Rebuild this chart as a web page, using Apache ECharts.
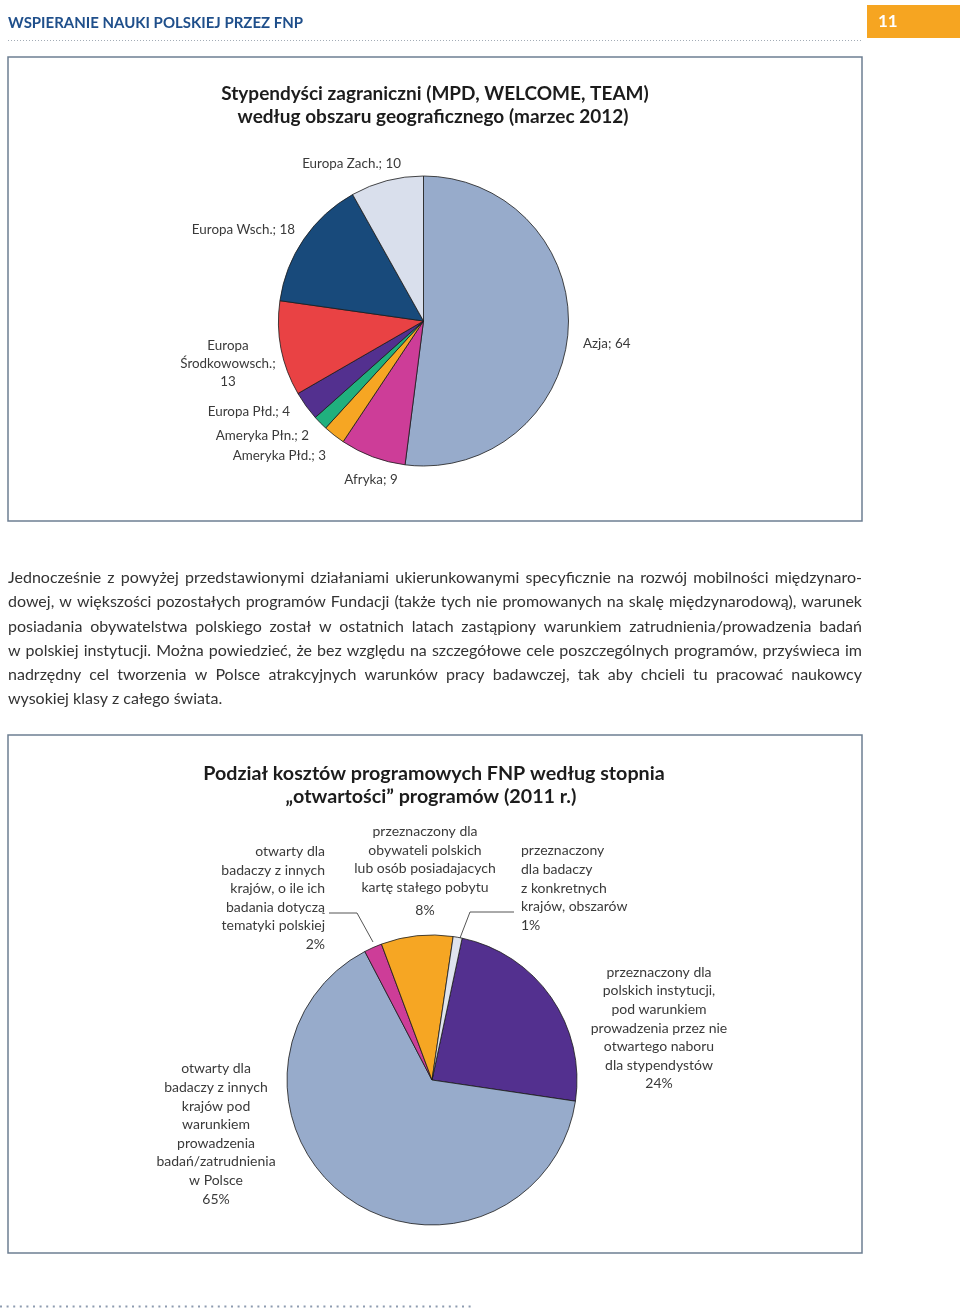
<!DOCTYPE html>
<html><head><meta charset="utf-8">
<script src="https://cdn.jsdelivr.net/npm/echarts@6/dist/echarts.min.js"></script>
<style>html,body{margin:0;padding:0;background:#fff}#c{width:960px;height:1311px}</style>
</head><body><div id="c"></div>
<script>
// ---- Chart 1 data ----
const regions = ['Azja', 'Afryka', 'Ameryka Płd.', 'Ameryka Płn.', 'Europa Płd.', 'Europa Środkowowsch.', 'Europa Wsch.', 'Europa Zach.'];
const regionCounts = [64, 9, 3, 2, 4, 13, 18, 10];
const regionColors = ['#97abcb', '#cd3d98', '#f6a623', '#20b07e', '#53308f', '#e94244', '#184a7b', '#d9dfec'];

// ---- Chart 2 data ----
const openness = [
  'przeznaczony dla\npolskich instytucji,\npod warunkiem\nprowadzenia przez nie\notwartego naboru\ndla stypendystów',
  'otwarty dla\nbadaczy z innych\nkrajów pod\nwarunkiem\nprowadzenia\nbadań/zatrudnienia\nw Polsce',
  'otwarty dla\nbadaczy z innych\nkrajów, o ile ich\nbadania dotyczą\ntematyki polskiej',
  'przeznaczony dla\nobywateli polskich\nlub osób posiadajacych\nkartę stałego pobytu',
  'przeznaczony\ndla badaczy\nz konkretnych\nkrajów, obszarów'
];
const opennessShares = [24, 65, 2, 8, 1];
const opennessColors = ['#53308f', '#97abcb', '#cd3d98', '#f6a623', '#dfe4ee'];

// ---- Texts ----
const headerText = 'WSPIERANIE NAUKI POLSKIEJ PRZEZ FNP';
const pageNumber = '11';
const title1 = ['Stypendyści zagraniczni (MPD, WELCOME, TEAM)', 'według obszaru geograficznego (marzec 2012)'];
const title2 = ['Podział kosztów programowych FNP według stopnia', '„otwartości” programów (2011 r.)'];
const paragraphLines = [
  'Jednocześnie z powyżej przedstawionymi działaniami ukierunkowanymi specyficznie na rozwój mobilności międzynaro-',
  'dowej, w większości pozostałych programów Fundacji (także tych nie promowanych na skalę międzynarodową), warunek',
  'posiadania obywatelstwa polskiego został w ostatnich latach zastąpiony warunkiem zatrudnienia/prowadzenia badań',
  'w polskiej instytucji. Można powiedzieć, że bez względu na szczegółowe cele poszczególnych programów, przyświeca im',
  'nadrzędny cel tworzenia w Polsce atrakcyjnych warunków pracy badawczej, tak aby chcieli tu pracować naukowcy',
  'wysokiej klasy z całego świata.'
];

// ---- Layout (label placement) ----
const pie1LabelPos = [[583, 344, 'left'], [371, 480, 'center'], [326, 456, 'right'], [309, 436, 'right'], [290, 412, 'right'], [228, 364, 'center'], [295, 230, 'right'], [401, 164, 'right']];
const pie2LabelPos = [[659, 1028, 'center'], [216, 1134, 'center'], [325, 898, 'right'], [425, 873, 'center'], [521, 888, 'left']];
const pie2Leaders = { 2: [[373, 942], [357, 913], [329, 913]], 4: [[460, 938], [470, 912], [514, 912]] };

const FONT = 'Lato, "Open Sans", sans-serif';
const chart = echarts.init(document.getElementById('c'), null, { renderer: 'canvas' });

const mctx = document.createElement('canvas').getContext('2d');
function measure(text, font) { mctx.font = font; return mctx.measureText(text).width; }

// Paragraph (justified)
const pLeft = 8, pRight = 862;
let pSize = 16.2;
while (pSize > 12 && Math.max(...paragraphLines.slice(0, -1).map(l => measure(l, pSize + 'px Lato'))) > (pRight - pLeft) - 8) pSize -= 0.1;
const pFont = pSize.toFixed(1) + 'px Lato';
const paraEls = [];
paragraphLines.forEach((line, i) => {
  const y = 578 + i * 24.2;
  if (i === paragraphLines.length - 1) {
    paraEls.push({ type: 'text', silent: true, style: { text: line, x: pLeft, y, font: pFont, fill: '#333', textVerticalAlign: 'middle' } });
    return;
  }
  const words = line.split(' ');
  const widths = words.map(w => measure(w, pFont));
  const total = widths.reduce((a, b) => a + b, 0);
  const gap = (pRight - pLeft - total) / (words.length - 1);
  let x = pLeft;
  words.forEach((w, j) => {
    paraEls.push({ type: 'text', silent: true, style: { text: w, x, y, font: pFont, fill: '#333', textVerticalAlign: 'middle' } });
    x += widths[j] + gap;
  });
});

const headerFont = 'bold 16px Lato';
const headerScale = 295 / measure(headerText, headerFont);
const tFont = 'bold 19px Lato';
const tFont2 = 'bold 19.7px Lato';

const graphics = [
  { type: 'text', x: 8, y: 23, scaleX: headerScale, silent: true, style: { text: headerText, x: 0, y: 0, font: headerFont, fill: '#1f4f8b', textVerticalAlign: 'middle' } },
  { type: 'line', silent: true, shape: { x1: 8, y1: 40.5, x2: 863, y2: 40.5 }, style: { stroke: '#a3acb6', lineWidth: 1, lineDash: [1, 2] } },
  { type: 'rect', silent: true, shape: { x: 867, y: 5, width: 93, height: 33 }, style: { fill: '#f6a521' } },
  { type: 'text', silent: true, style: { text: pageNumber, x: 878, y: 22, font: 'bold 17px Lato', fill: '#fff', textVerticalAlign: 'middle' } },
  { type: 'rect', silent: true, shape: { x: 8, y: 57, width: 854, height: 464 }, style: { fill: 'none', stroke: '#6d7f92', lineWidth: 1.5 } },
  { type: 'rect', silent: true, shape: { x: 8, y: 735, width: 854, height: 518 }, style: { fill: 'none', stroke: '#6d7f92', lineWidth: 1.5 } },
  { type: 'line', silent: true, shape: { x1: 0, y1: 1306.5, x2: 472, y2: 1306.5 }, style: { stroke: '#8d9bb0', lineWidth: 2, lineDash: [2, 4.6] } },
  { type: 'text', silent: true, style: { text: title1[0], x: 435, y: 94, font: tFont, fill: '#1c1c1c', textAlign: 'center', textVerticalAlign: 'middle' } },
  { type: 'text', silent: true, style: { text: title1[1], x: 433, y: 117, font: tFont, fill: '#1c1c1c', textAlign: 'center', textVerticalAlign: 'middle' } },
  { type: 'text', silent: true, style: { text: title2[0], x: 434, y: 774, font: tFont2, fill: '#1c1c1c', textAlign: 'center', textVerticalAlign: 'middle' } },
  { type: 'text', silent: true, style: { text: title2[1], x: 431, y: 797, font: tFont2, fill: '#1c1c1c', textAlign: 'center', textVerticalAlign: 'middle' } }
].concat(paraEls);

chart.setOption({
  animation: false,
  backgroundColor: '#fff',
  graphic: graphics,
  series: [
    {
      type: 'pie',
      center: [423.5, 321],
      radius: 145,
      startAngle: 90,
      clockwise: true,
      avoidLabelOverlap: false,
      emphasis: { disabled: true },
      itemStyle: { borderColor: '#1a1a1a', borderWidth: 0.8 },
      label: {
        show: true, position: 'outside', fontFamily: FONT, fontSize: 13.4, color: '#3a3a3a', lineHeight: 18,
        formatter: p => p.name.length > 15 ? p.name.replace(' ', '\n') + ';\n' + p.value : p.name + '; ' + p.value
      },
      labelLine: { show: false },
      labelLayout: params => {
        const p = pie1LabelPos[params.dataIndex];
        return { x: p[0], y: p[1], align: p[2], verticalAlign: 'middle' };
      },
      data: regions.map((n, i) => ({ name: n, value: regionCounts[i], itemStyle: { color: regionColors[i] } }))
    },
    {
      type: 'pie',
      center: [432, 1080],
      radius: 145,
      startAngle: 78,
      clockwise: true,
      avoidLabelOverlap: false,
      emphasis: { disabled: true },
      itemStyle: { borderColor: '#1a1a1a', borderWidth: 0.8 },
      label: {
        show: true, position: 'outside', fontFamily: FONT, fontSize: 14, color: '#3a3a3a', lineHeight: 18.6,
        formatter: p => p.name + '\n{' + (p.dataIndex === 3 ? 'g' : 'v') + '|' + p.value + '%}',
        rich: {
          v: { fontFamily: FONT, fontSize: 14, color: '#3a3a3a', lineHeight: 18.6 },
          g: { fontFamily: FONT, fontSize: 14, color: '#3a3a3a', lineHeight: 27 }
        }
      },
      labelLine: { show: false, lineStyle: { color: '#555', width: 1 } },
      labelLayout: params => {
        const p = pie2LabelPos[params.dataIndex];
        const r = { x: p[0], y: p[1], align: p[2], verticalAlign: 'middle' };
        if (pie2Leaders[params.dataIndex]) r.labelLinePoints = pie2Leaders[params.dataIndex];
        return r;
      },
      data: openness.map((n, i) => ({
        name: n, value: opennessShares[i],
        itemStyle: { color: opennessColors[i] },
        labelLine: { show: !!pie2Leaders[i], lineStyle: { color: '#555', width: 1 } }
      }))
    }
  ]
});
</script></body></html>
